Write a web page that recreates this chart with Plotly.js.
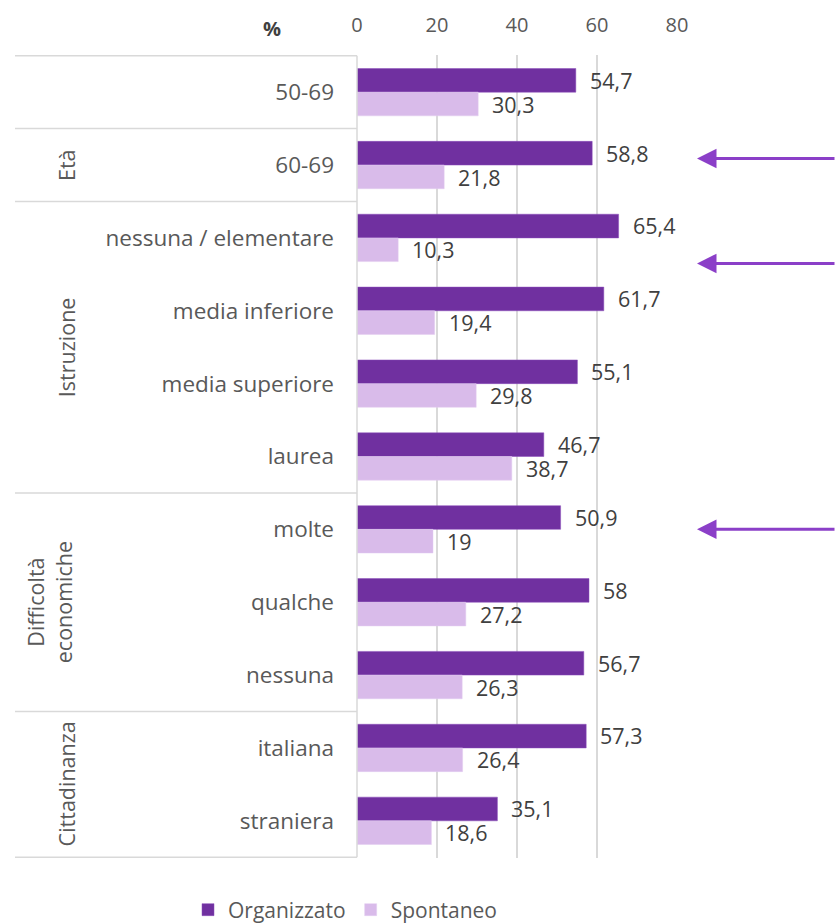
<!DOCTYPE html>
<html>
<head>
<meta charset="utf-8">
<script src="https://cdn.plot.ly/plotly-3.0.1.min.js"></script>
<style>html,body{margin:0;padding:0;background:#fff}#chart{width:836px;height:923px}</style>
</head>
<body>
<div id="chart"></div>
<script>
var categories = ["50-69", "60-69", "nessuna / elementare", "media inferiore", "media superiore", "laurea", "molte", "qualche", "nessuna", "italiana", "straniera"];
var organizzato = [54.7, 58.8, 65.4, 61.7, 55.1, 46.7, 50.9, 58, 56.7, 57.3, 35.1];
var spontaneo = [30.3, 21.8, 10.3, 19.4, 29.8, 38.7, 19, 27.2, 26.3, 26.4, 18.6];
var seriesNames = ["Organizzato", "Spontaneo"];
var groupLabels = ["", "Età", "Istruzione", "Difficoltà<br>economiche", "Cittadinanza"];
var groupStart = [0, 1, 2, 6, 9];
var groupEnd = [0, 1, 5, 8, 10];
var xTicks = [0, 20, 40, 60, 80];
var arrowRows = [0.91, 2.35, 6.0];

var W = 836, H = 923;
var mL = 357, mR = 159, mT = 55, mB = 65;
var plotW = W - mL - mR, plotH = H - mT - mB;
function pxToPaperX(px) { return (px - mL) / plotW; }
function pxToPaperY(py) { return 1 - (py - mT) / plotH; }

var trace1 = {
  type: 'bar', orientation: 'h', name: seriesNames[0],
  y: categories, x: organizzato,
  marker: {color: '#7030A0', line: {color: '#8A4DBA', width: 0.5}},
  hoverinfo: 'x'
};
var trace2 = {
  type: 'bar', orientation: 'h', name: seriesNames[1],
  y: categories, x: spontaneo,
  marker: {color: '#D9BBEA', line: {color: '#E3CCF0', width: 0.5}},
  hoverinfo: 'x'
};

function fmt(v) { return String(v).replace('.', ','); }

var annotations = [];
var barOffset = 12;
var labelFont = {family: 'Open Sans', size: 21.5, color: '#404040'};
categories.forEach(function (c, i) {
  annotations.push({
    x: organizzato[i], y: c, xref: 'x', yref: 'y', text: fmt(organizzato[i]),
    showarrow: false, xanchor: 'left', yanchor: 'middle', xshift: 12, yshift: barOffset,
    font: labelFont
  });
  annotations.push({
    x: spontaneo[i], y: c, xref: 'x', yref: 'y', text: fmt(spontaneo[i]),
    showarrow: false, xanchor: 'left', yanchor: 'middle', xshift: 12, yshift: -barOffset,
    font: labelFont
  });
});

// group labels
groupLabels.forEach(function (g, k) {
  if (!g) return;
  var twoLines = g.indexOf('<br>') >= 0;
  annotations.push({
    x: pxToPaperX(twoLines ? 49 : 66), xref: 'paper',
    y: (groupStart[k] + groupEnd[k]) / 2, yref: 'y',
    text: g, textangle: -90, showarrow: false,
    xanchor: 'center', yanchor: 'middle',
    font: {family: 'Open Sans', size: 21.5, color: '#595959'}
  });
});

// % label
annotations.push({
  x: pxToPaperX(272), xref: 'paper', y: pxToPaperY(28), yref: 'paper',
  text: '<b>%</b>', showarrow: false, xanchor: 'center', yanchor: 'middle',
  font: {family: 'Open Sans', size: 20, color: '#404040'}
});

// arrows
arrowRows.forEach(function (r) {
  annotations.push({
    x: pxToPaperX(697), xref: 'paper', y: r, yref: 'y',
    ax: 139, ay: 0, axref: 'pixel', ayref: 'pixel',
    showarrow: true, arrowhead: 2, arrowsize: 1.3, arrowwidth: 3,
    arrowcolor: '#8B3FC8', text: '', standoff: 0
  });
});

// separator lines
var shapes = [];
var boundaries = [-0.5];
groupEnd.forEach(function (e) { boundaries.push(e + 0.5); });
boundaries.forEach(function (b) {
  shapes.push({
    type: 'line', xref: 'paper', yref: 'y',
    x0: pxToPaperX(15), x1: 0, y0: b, y1: b,
    line: {color: '#D9D9D9', width: 1.5}
  });
});
shapes.push({
  type: 'line', xref: 'paper', yref: 'y', x0: 0, x1: 0, y0: -0.5, y1: categories.length - 0.5,
  line: {color: '#D9D9D9', width: 1.5}
});

var layout = {
  width: W, height: H,
  margin: {l: mL, r: mR, t: mT, b: mB, pad: 0, autoexpand: false},
  paper_bgcolor: '#ffffff', plot_bgcolor: '#ffffff',
  font: {family: 'Open Sans', color: '#595959'},
  barmode: 'group', bargap: 0.35, bargroupgap: 0,
  separators: ',.',
  xaxis: {
    side: 'top', range: [0, 80], tickvals: xTicks, ticktext: xTicks.map(String),
    showgrid: true, gridcolor: '#D9D9D9', gridwidth: 1.5,
    zeroline: false, showline: false, ticks: '',
    ticklabelstandoff: 18, automargin: false,
    tickfont: {family: 'Open Sans', size: 20, color: '#595959'}, fixedrange: true
  },
  yaxis: {
    type: 'category', autorange: 'reversed', range: [categories.length - 0.5, -0.5],
    showgrid: false, zeroline: false, showline: false, ticks: '',
    ticklabelstandoff: 22, automargin: false,
    tickfont: {family: 'Open Sans', size: 22.5, color: '#595959'}, fixedrange: true
  },
  showlegend: true,
  legend: {
    orientation: 'h', traceorder: 'normal',
    x: pxToPaperX(188), xanchor: 'left', y: pxToPaperY(910), yanchor: 'middle',
    font: {family: 'Open Sans', size: 21, color: '#595959'},
    itemwidth: 30, bgcolor: 'rgba(0,0,0,0)'
  },
  annotations: annotations,
  shapes: shapes
};

Plotly.newPlot('chart', [trace1, trace2], layout, {displayModeBar: false, staticPlot: true});
</script>
</body>
</html>
